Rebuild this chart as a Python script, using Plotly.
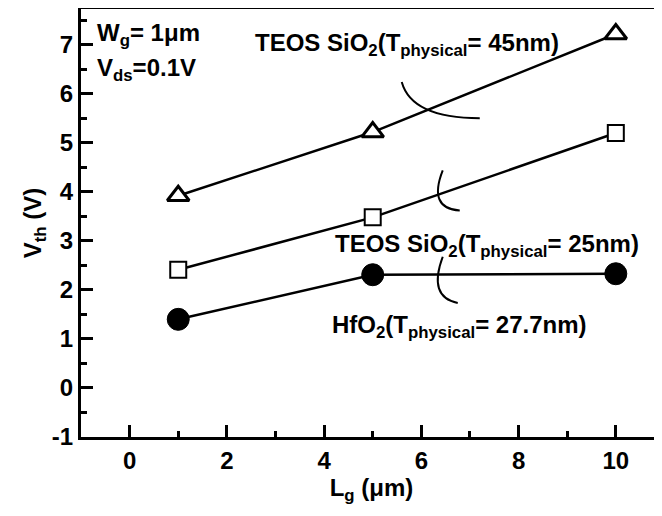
import plotly.graph_objects as go

lg = [1, 5, 10]
vth_teos45 = [3.92, 5.22, 7.22]
vth_teos25 = [2.41, 3.48, 5.2]
vth_hfo2 = [1.4, 2.31, 2.33]

x_ticks = [0, 2, 4, 6, 8, 10]
y_ticks = [-1, 0, 1, 2, 3, 4, 5, 6, 7]
y_tick_labels = ["-1", "0", "1", "2", "3", "4", "5", "6", "7"]

FONT = "Liberation Sans, Arial, sans-serif"

fig = go.Figure()
fig.add_trace(go.Scatter(x=lg, y=vth_teos45, mode="lines+markers",
                         line=dict(color="black", width=2.5),
                         marker=dict(symbol="triangle-up", size=19, color="white",
                                     line=dict(color="black", width=3))))
fig.add_trace(go.Scatter(x=lg, y=vth_teos25, mode="lines+markers",
                         line=dict(color="black", width=2.5),
                         marker=dict(symbol="square", size=16, color="white",
                                     line=dict(color="black", width=2))))
fig.add_trace(go.Scatter(x=lg, y=vth_hfo2, mode="lines+markers",
                         line=dict(color="black", width=2.5),
                         marker=dict(symbol="circle", size=22, color="black",
                                     line=dict(color="black", width=1))))

def px2x(px):
    return (px - 130) / 48.6

def py2y(py):
    return 7 - (py - 45) / 48.8

def arc(x0, y0, cx, cy, x1, y1):
    return (f"M {px2x(x0)},{py2y(y0)} Q {px2x(cx)},{py2y(cy)} {px2x(x1)},{py2y(y1)}")

shapes = []
for p in [arc(402, 82, 412, 118, 480, 118),
          arc(443, 170, 428, 208, 460, 210),
          arc(443, 256, 428, 296, 458, 302)]:
    shapes.append(dict(type="path", path=p, xref="x", yref="y",
                       line=dict(color="black", width=2)))

afont = dict(family=FONT, size=24, color="black", weight="bold")
annots = [
    ("W<sub>g</sub>= 1μm", px2x(95), py2y(35)),
    ("V<sub>ds</sub>=0.1V", px2x(95), py2y(70)),
    ("TEOS SiO<sub>2</sub>(T<sub>physical</sub>= 45nm)", px2x(253), py2y(45)),
    ("TEOS SiO<sub>2</sub>(T<sub>physical</sub>= 25nm)", px2x(333), py2y(245)),
    ("HfO<sub>2</sub>(T<sub>physical</sub>= 27.7nm)", px2x(330), py2y(325)),
]
annotations = [dict(text=t, x=x, y=y, xref="x", yref="y", showarrow=False,
                    xanchor="left", yanchor="middle", font=afont)
               for t, x, y in annots]

tfont = dict(family=FONT, size=24, color="black", weight="bold")
# page body adds an 8px offset; figure sized so the plot lands where the reference has it
fig.update_layout(
    width=654, height=508,
    margin=dict(l=73, r=0, t=1, b=79),
    paper_bgcolor="white", plot_bgcolor="white",
    showlegend=False,
    shapes=shapes, annotations=annotations,
    xaxis=dict(range=[-1, 10.95], tickvals=x_ticks, automargin=False,
               ticks="inside", ticklen=12, tickwidth=3, tickcolor="black",
               minor=dict(ticks="inside", ticklen=6, tickwidth=3, tickcolor="black", dtick=1),
               showline=True, linewidth=3, linecolor="black", mirror=True,
               showgrid=False, zeroline=False, tickfont=tfont,
               title=dict(text="L<sub>g</sub> (μm)", font=tfont, standoff=6)),
    yaxis=dict(range=[-1, 7.73], tickvals=y_ticks, ticktext=y_tick_labels, automargin=False,
               ticks="inside", ticklen=12, tickwidth=3, tickcolor="black",
               minor=dict(ticks="inside", ticklen=6, tickwidth=3, tickcolor="black", dtick=0.5),
               showline=True, linewidth=3, linecolor="black",
               showgrid=False, zeroline=False, tickfont=tfont,
               title=dict(text="V<sub>th</sub> (V)", font=tfont, standoff=4)),
)
fig.write_html("out.html")
